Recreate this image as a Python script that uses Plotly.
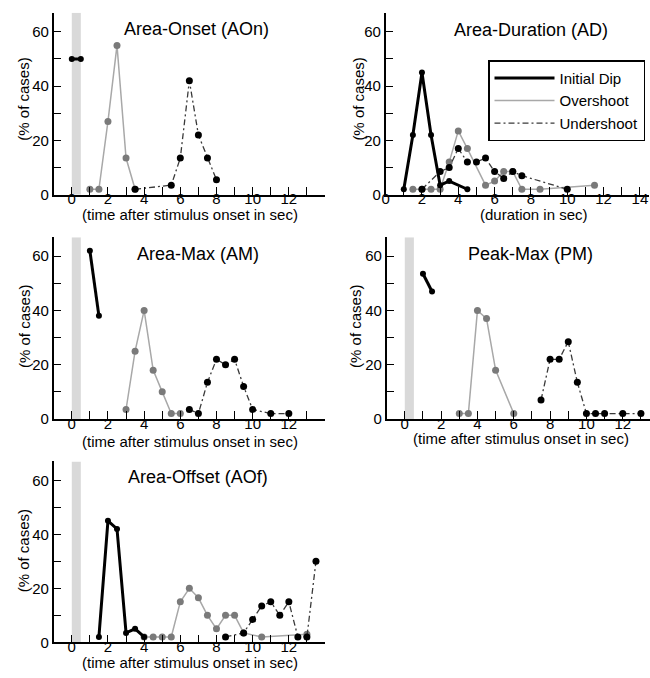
import plotly.graph_objects as go

# ---- data: percentage of cases per time bin ----
# Area-Onset (AOn)
aon_dip_x = [0, 0.5]
aon_dip_y = [50, 50]
aon_over_x = [1, 1.5, 2, 2.5, 3, 3.5]
aon_over_y = [2, 2, 27, 55, 13.5, 2]
aon_under_x = [3.5, 5.5, 6, 6.5, 7, 7.5, 8]
aon_under_y = [2, 3.5, 13.5, 42, 22, 13.5, 5.5]

# Area-Duration (AD)
ad_dip_x = [1, 1.5, 2, 2.5, 3, 3.5, 4.5]
ad_dip_y = [2, 22, 45, 22, 3.5, 5, 2]
ad_over_x = [1.5, 2, 2.5, 3, 3.5, 4, 4.5, 5.5, 6, 6.5, 7, 7.5, 8.5, 11.5]
ad_over_y = [2, 2, 2, 2, 12, 23.5, 17, 3.5, 5, 8.5, 8.5, 2, 2, 3.5]
ad_under_x = [2, 3, 3.5, 4, 4.5, 5, 5.5, 6, 6.5, 7, 7.5, 10]
ad_under_y = [2, 8.5, 10, 17, 12, 12, 13.5, 8.5, 6, 8.5, 7, 2]

# Area-Max (AM)
am_dip_x = [1, 1.5]
am_dip_y = [62, 38]
am_over_x = [3, 3.5, 4, 4.5, 5, 5.5, 6]
am_over_y = [3.5, 25, 40, 18, 10, 2, 2]
am_under_x = [6.5, 7, 7.5, 8, 8.5, 9, 9.5, 10, 11, 12]
am_under_y = [3.5, 2, 13.5, 22, 20, 22, 12, 3.5, 2, 2]

# Peak-Max (PM)
pm_dip_x = [1, 1.5]
pm_dip_y = [53.5, 47]
pm_over_x = [3, 3.5, 4, 4.5, 5, 6]
pm_over_y = [2, 2, 40, 37, 18, 2]
pm_under_x = [7.5, 8, 8.5, 9, 9.5, 10, 10.5, 11, 12, 13]
pm_under_y = [7, 22, 22, 28.5, 13.5, 2, 2, 2, 2, 2]

# Area-Offset (AOf)
aof_dip_x = [1.5, 2, 2.5, 3, 3.5, 4]
aof_dip_y = [2, 45, 42, 3.5, 5, 2]
aof_over_x = [4, 4.5, 5, 5.5, 6, 6.5, 7, 7.5, 8, 8.5, 9, 9.5, 10.5, 13]
aof_over_y = [2, 2, 2, 2, 15, 20, 16.5, 10, 5, 10, 10, 3.5, 2, 3]
aof_under_x = [8.5, 9.5, 10, 10.5, 11, 11.5, 12, 12.5, 13, 13.5]
aof_under_y = [2, 3.5, 8.5, 13.5, 15, 10, 15, 2, 2, 30]

series_names = ["Initial Dip", "Overshoot", "Undershoot"]
time_title = "(time after stimulus onset in sec)"
duration_title = "(duration in sec)"

W, H = 650, 678
FONT = "Liberation Sans, Arial, sans-serif"


def px(x):
    return x / W


def py(y):
    return 1 - y / H


panels = [
    dict(title="Area-Onset (AOn)", xtitle=time_title,
         dip=(aon_dip_x, aon_dip_y), over=(aon_over_x, aon_over_y), under=(aon_under_x, aon_under_y),
         xrange=[-1, 14], xdom=(50, 323), ydom=(13, 197), band=True,
         labels=list(range(0, 13, 2)), minors=list(range(1, 14, 2)),
         title_xy=(194, 29), xtitle_xy=(187, 217), ytitle_xy=(20, 100)),
    dict(title="Area-Duration (AD)", xtitle=duration_title,
         dip=(ad_dip_x, ad_dip_y), over=(ad_over_x, ad_over_y), under=(ad_under_x, ad_under_y),
         xrange=[0, 14.5], xdom=(384, 649), ydom=(13, 197), band=False,
         labels=list(range(0, 15, 2)), minors=list(range(1, 14, 2)),
         title_xy=(530, 30), xtitle_xy=(533, 217), ytitle_xy=(357, 100)),
    dict(title="Area-Max (AM)", xtitle=time_title,
         dip=(am_dip_x, am_dip_y), over=(am_over_x, am_over_y), under=(am_under_x, am_under_y),
         xrange=[-1, 14], xdom=(50, 323), ydom=(240, 424), band=True,
         labels=list(range(0, 13, 2)), minors=list(range(1, 14, 2)),
         title_xy=(195, 257), xtitle_xy=(187, 447), ytitle_xy=(20, 330)),
    dict(title="Peak-Max (PM)", xtitle=time_title,
         dip=(pm_dip_x, pm_dip_y), over=(pm_over_x, pm_over_y), under=(pm_under_x, pm_under_y),
         xrange=[-1, 13.5], xdom=(385, 650), ydom=(240, 424), band=True,
         labels=list(range(0, 13, 2)), minors=list(range(1, 14, 2)),
         title_xy=(530, 257), xtitle_xy=(520, 444), ytitle_xy=(353, 330)),
    dict(title="Area-Offset (AOf)", xtitle=time_title,
         dip=(aof_dip_x, aof_dip_y), over=(aof_over_x, aof_over_y), under=(aof_under_x, aof_under_y),
         xrange=[-1, 14], xdom=(50, 323), ydom=(467, 650), band=True,
         labels=list(range(0, 13, 2)), minors=list(range(1, 14, 2)),
         title_xy=(195, 483), xtitle_xy=(187, 670), ytitle_xy=(20, 557)),
]

YMAX = 67
DIP_STYLE = dict(line=dict(color="black", width=3), marker=dict(color="black", size=6))
OVER_STYLE = dict(line=dict(color="#a8a8a8", width=1.5), marker=dict(color="#7a7a7a", size=7))
UNDER_STYLE = dict(line=dict(color="#3a3a3a", width=1.3, dash="6px,3px,2px,3px"),
                   marker=dict(color="black", size=7))

fig = go.Figure()
layout = dict(
    width=W, height=H, autosize=False,
    margin=dict(l=0, r=0, t=0, b=0),
    paper_bgcolor="white", plot_bgcolor="white",
    font=dict(family=FONT, color="black", size=15),
    showlegend=True,
    shapes=[], annotations=[],
)

tick_common = dict(ticks="inside", ticklen=8, tickwidth=1.3, tickcolor="black",
                   showline=True, linecolor="black", linewidth=1.5,
                   showgrid=False, zeroline=False, fixedrange=True,
                   tickfont=dict(size=15, family=FONT, color="black"))

for i, p in enumerate(panels, start=1):
    xa = "x" if i == 1 else f"x{i}"
    ya = "y" if i == 1 else f"y{i}"
    layout[f"xaxis{'' if i == 1 else i}"] = dict(
        domain=[px(p["xdom"][0]), px(p["xdom"][1])], range=p["xrange"], anchor=ya,
        tickmode="array", tickvals=p["labels"], ticktext=[str(v) for v in p["labels"]],
        ticklabelstandoff=-10,
        minor=dict(tickmode="array", tickvals=p["minors"], ticks="inside", ticklen=8,
                   tickwidth=1.3, tickcolor="black"),
        **tick_common)
    layout[f"yaxis{'' if i == 1 else i}"] = dict(
        domain=[py(p["ydom"][1]), py(p["ydom"][0])], range=[0, YMAX], anchor=xa,
        tickmode="array", tickvals=[0, 20, 40, 60],
        minor=dict(tickmode="array", tickvals=[10, 30, 50], ticks="inside", ticklen=8,
                   tickwidth=1.3, tickcolor="black"),
        **tick_common)

    if p["band"]:
        layout["shapes"].append(dict(type="rect", xref=xa, yref=ya, x0=0, x1=0.5, y0=0, y1=YMAX,
                                     fillcolor="#d9d9d9", line=dict(width=0), layer="below"))

    for key, style in (("over", OVER_STYLE), ("under", UNDER_STYLE), ("dip", DIP_STYLE)):
        xs, ys = p[key]
        fig.add_trace(go.Scatter(x=xs, y=ys, xaxis=xa, yaxis=ya, mode="lines+markers",
                                 showlegend=False, hoverinfo="skip", cliponaxis=False, **style))

    layout["annotations"] += [
        dict(text=p["title"], x=px(p["title_xy"][0]), y=py(p["title_xy"][1]), xref="paper", yref="paper",
             xanchor="center", yanchor="middle", showarrow=False, font=dict(size=18, family=FONT)),
        dict(text=p["xtitle"], x=px(p["xtitle_xy"][0]), y=py(p["xtitle_xy"][1]), xref="paper", yref="paper",
             xanchor="center", yanchor="middle", showarrow=False, font=dict(size=15, family=FONT)),
        dict(text="(% of cases)", x=px(p["ytitle_xy"][0]), y=py(p["ytitle_xy"][1]), xref="paper", yref="paper",
             xanchor="center", yanchor="middle", textangle=-90, showarrow=False,
             font=dict(size=15, family=FONT)),
    ]

# legend entries (line samples only)
for name, style in zip(series_names, (DIP_STYLE, OVER_STYLE, UNDER_STYLE)):
    fig.add_trace(go.Scatter(x=[None], y=[None], xaxis="x2", yaxis="y2", mode="lines",
                             name=name, line=style["line"], showlegend=True))

layout["legend"] = dict(x=px(487), y=py(61), xanchor="left", yanchor="top",
                        bgcolor="white", bordercolor="black", borderwidth=1.5,
                        font=dict(size=15, family=FONT), itemwidth=60,
                        tracegroupgap=0, itemclick=False, itemdoubleclick=False)

fig.update_layout(**layout)
fig.write_html("out.html")
